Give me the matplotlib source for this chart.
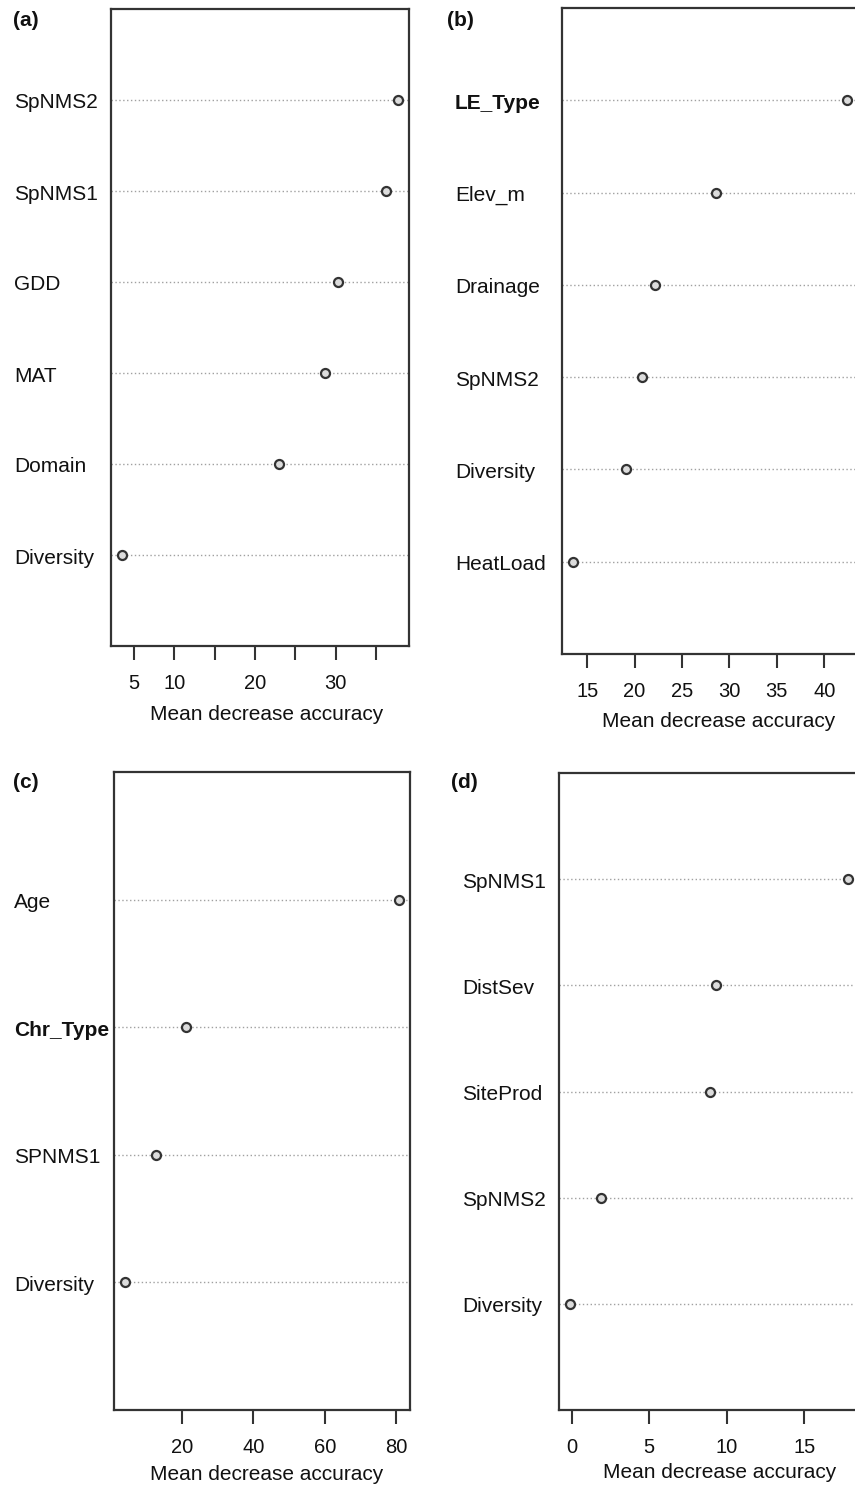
import numpy as np
import matplotlib.pyplot as plt
from matplotlib.transforms import blended_transform_factory, offset_copy

plt.rcParams['font.family'] = ['Liberation Sans', 'DejaVu Sans']

# variable importance, listed top to bottom as in the figure
vars_a = ['SpNMS2', 'SpNMS1', 'GDD', 'MAT', 'Domain', 'Diversity']
vals_a = [37.7, 36.2, 30.3, 28.6, 23.0, 3.5]

vars_b = ['LE_Type', 'Elev_m', 'Drainage', 'SpNMS2', 'Diversity', 'HeatLoad']
vals_b = [42.4, 28.6, 22.2, 20.8, 19.1, 13.5]

vars_c = ['Age', 'Chr_Type', 'SPNMS1', 'Diversity']
vals_c = [80.8, 21.1, 12.7, 4.0]

vars_d = ['SpNMS1', 'DistSev', 'SiteProd', 'SpNMS2', 'Diversity']
vals_d = [17.8, 9.3, 8.9, 1.9, -0.1]

ticks_a = [5, 10, 15, 20, 25, 30, 35]
ticklabels_a = ['5', '10', '', '20', '', '30', '']
ticks_b = [15, 20, 25, 30, 35, 40]
ticks_c = [20, 40, 60, 80]
ticks_d = [0, 5, 10, 15]

bold_labels = ['LE_Type', 'Chr_Type']

W, H = 855, 1490
fig = plt.figure(figsize=(W / 100, H / 100), dpi=100)


def px_axes(left, right, top, bottom):
    return fig.add_axes([left / W, 1 - bottom / H, (right - left) / W, (bottom - top) / H])


def dotchart(box, names, vals, ticks, ticklabels, label_x, tag, tag_xy, xlab_xy):
    ax = px_axes(*box)
    n = len(names)
    ypos = np.arange(n, 0, -1)
    lo, hi = min(vals), max(vals)
    r = hi - lo
    ax.set_xlim(lo - 0.04 * r, hi + 0.04 * r)
    ax.set_ylim(0, n + 1)
    for y in ypos:
        ax.axhline(y, color='#a0a0a0', lw=1.0, ls=(0, (1, 1.8)), zorder=1)
    ax.plot(vals, ypos, 'o', ms=6.5, mfc='#dcdcdc', mec='#333333', mew=1.6, zorder=3)
    ax.set_yticks([])
    ax.set_xticks(ticks)
    ax.set_xticklabels(ticklabels if ticklabels else [str(t) for t in ticks])
    ax.tick_params(axis='x', direction='out', length=10, width=1.5, color='#333333',
                   labelsize=14.5, pad=10, labelcolor='#111111')
    for s in ax.spines.values():
        s.set_linewidth(1.6)
        s.set_color('#333333')
    tr = blended_transform_factory(fig.transFigure, ax.transData)
    tr = offset_copy(tr, fig=fig, x=0, y=-3, units='dots')
    for name, y in zip(names, ypos):
        ax.text(label_x / W, y, name, transform=tr, ha='left', va='center',
                fontsize=15, color='#111111',
                fontweight='bold' if name in bold_labels else 'normal',
                clip_on=False)
    fig.text(tag_xy[0] / W, 1 - tag_xy[1] / H, tag, ha='left', va='center',
             fontsize=15, fontweight='bold', color='#111111')
    fig.text(xlab_xy[0] / W, 1 - xlab_xy[1] / H, 'Mean decrease accuracy',
             ha='center', va='center', fontsize=15, color='#111111')
    return ax


dotchart((111, 409, 9, 646), vars_a, vals_a, ticks_a, ticklabels_a, 14, '(a)', (13, 20), (267, 715))
dotchart((562, 858, 8, 654), vars_b, vals_b, ticks_b, None, 455, '(b)', (447, 21), (719, 722))
dotchart((114, 410, 772, 1410), vars_c, vals_c, ticks_c, None, 14, '(c)', (13, 782), (267, 1475))
dotchart((559, 859, 773, 1410), vars_d, vals_d, ticks_d, None, 462, '(d)', (451, 782), (720, 1473))

fig.savefig('out.png', dpi=100)
